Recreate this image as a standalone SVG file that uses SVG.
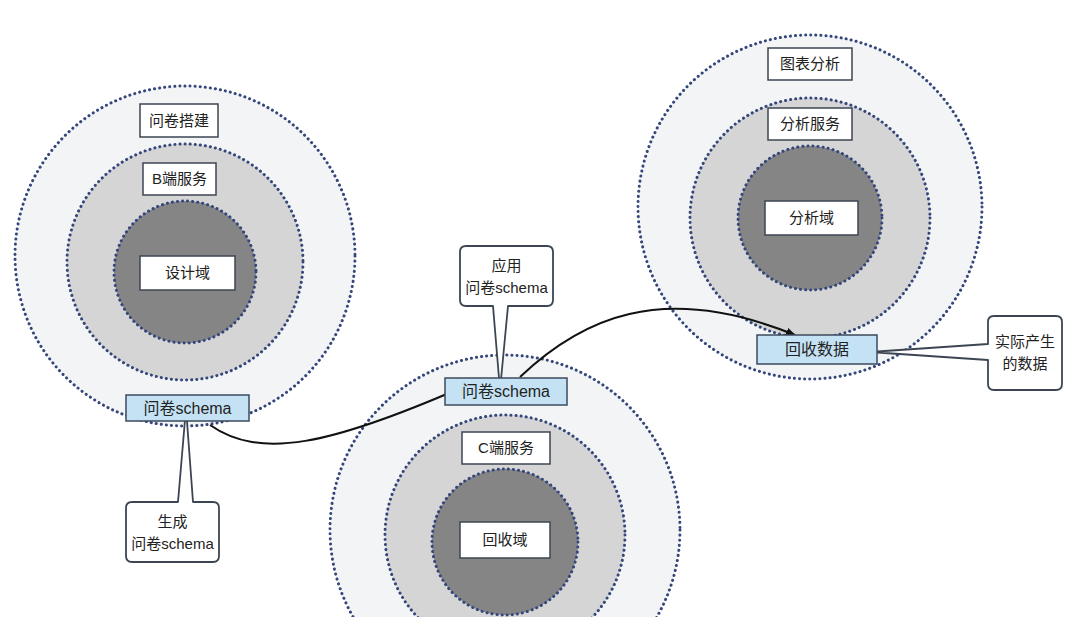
<svg xmlns="http://www.w3.org/2000/svg" width="1080" height="617" viewBox="0 0 1080 617">
<style>
.c{stroke:#34467a;stroke-width:3;stroke-dasharray:0.1 5;stroke-linecap:round}
.o{fill:#f3f4f6}.m{fill:#d5d5d6}.i{fill:#858586}
.w{fill:#fff;stroke:#3c4552;stroke-width:1.5}
.b{fill:#c4e2f4;stroke:#3c4a5e;stroke-width:1.5}
.t{font-family:"Liberation Sans","Noto Sans CJK SC",sans-serif;font-size:15px;fill:#222;text-anchor:middle}
.bt{font-size:16px}
.cl{fill:#fff;stroke:#3c4552;stroke-width:1.8;stroke-linejoin:round}
.a{fill:none;stroke:#111;stroke-width:2}
</style>
<defs><marker id="ah" markerWidth="10" markerHeight="8" refX="9" refY="4" orient="auto" markerUnits="userSpaceOnUse"><path d="M0,0L10,4L0,8z" fill="#111"/></marker></defs>
<rect width="1080" height="617" fill="#fff"/>
<g id="left">
<circle class="c o" cx="185" cy="256" r="170"/>
<circle class="c m" cx="185" cy="262" r="118"/>
<circle class="c i" cx="185" cy="272" r="71"/>
<rect class="w" x="140" y="104" width="78" height="33"/><text class="t" x="179" y="126">问卷搭建</text>
<rect class="w" x="143" y="163" width="73" height="32"/><text class="t" x="179.5" y="184">B端服务</text>
<rect class="w" x="140" y="256" width="95" height="34"/><text class="t" x="187.5" y="278">设计域</text>
</g>
<g id="middle">
<circle class="c o" cx="505" cy="530" r="175"/>
<circle class="c m" cx="505" cy="535" r="120"/>
<circle class="c i" cx="505" cy="542" r="73"/>
<rect class="w" x="462" y="432" width="88" height="32"/><text class="t" x="506" y="453">C端服务</text>
<rect class="w" x="460" y="522" width="90" height="36"/><text class="t" x="505" y="545">回收域</text>
</g>
<g id="right">
<circle class="c o" cx="810" cy="207" r="172"/>
<circle class="c m" cx="810" cy="218" r="120"/>
<circle class="c i" cx="810" cy="218" r="72"/>
<rect class="w" x="768" y="48" width="84" height="32"/><text class="t" x="810" y="69">图表分析</text>
<rect class="w" x="768" y="108" width="84" height="32"/><text class="t" x="810" y="129">分析服务</text>
<rect class="w" x="765" y="201" width="93" height="34"/><text class="t" x="811.5" y="223">分析域</text>
</g>
<g id="connectors">
<path class="a" d="M210,425 C260,460 330,445 463,387" marker-end="url(#ah)"/>
<path class="a" d="M520,377 C580,320 660,280 795,335" marker-end="url(#ah)"/>
</g>
<g id="callout-left">
<path class="cl" d="M186,408 L193,502 L213,502 Q219,502 219,508 L219,556 Q219,562 213,562 L132,562 Q126,562 126,556 L126,508 Q126,502 132,502 L178,502 Z"/>
<text class="t" x="172.5" y="527">生成</text><text class="t" x="172.5" y="549">问卷schema</text>
</g>
<g id="callout-mid">
<path class="cl" d="M500,390 L508,306 L547,306 Q553,306 553,300 L553,252 Q553,246 547,246 L466,246 Q460,246 460,252 L460,300 Q460,306 466,306 L493,306 Z"/>
<text class="t" x="506.5" y="271">应用</text><text class="t" x="506.5" y="293">问卷schema</text>
</g>
<g id="callout-right">
<path class="cl" d="M870,352 L988,344 L988,322 Q988,316 994,316 L1056,316 Q1062,316 1062,322 L1062,384 Q1062,390 1056,390 L994,390 Q988,390 988,384 L988,360 Z"/>
<text class="t" x="1025" y="347">实际产生</text><text class="t" x="1025" y="369">的数据</text>
</g>
<g id="blue-boxes">
<rect class="b" x="126" y="395" width="123" height="26"/><text class="t bt" x="187.5" y="414">问卷schema</text>
<rect class="b" x="445" y="378" width="122" height="27"/><text class="t bt" x="506" y="397">问卷schema</text>
<rect class="b" x="757" y="335" width="120" height="29"/><text class="t bt" x="817" y="355">回收数据</text>
</g>
</svg>
